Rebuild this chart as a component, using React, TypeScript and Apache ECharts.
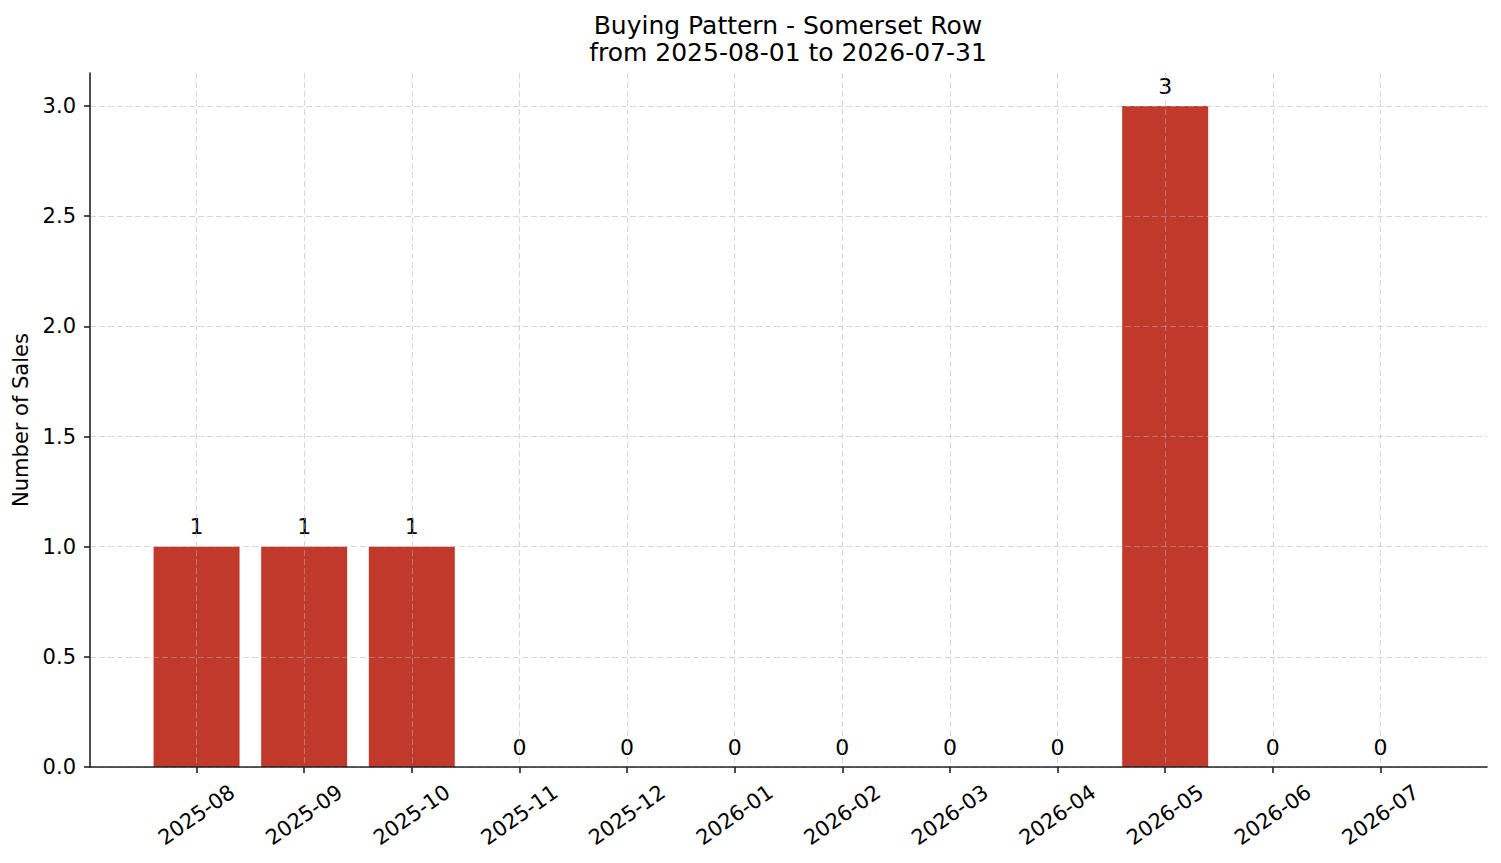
import React, { useEffect, useRef } from 'react';
import * as echarts from 'echarts';

// 月份与销量
const months = [
  '2025-08', '2025-09', '2025-10', '2025-11', '2025-12', '2026-01',
  '2026-02', '2026-03', '2026-04', '2026-05', '2026-06', '2026-07'
];
const sales = [1, 1, 1, 0, 0, 0, 0, 0, 0, 3, 0, 0];
const yTicks = [0, 0.5, 1, 1.5, 2, 2.5, 3];
const titleText = 'Buying Pattern - Somerset Row\nfrom 2025-08-01 to 2026-07-31';

const FONT = 'DejaVu Sans';
const gridColor = 'rgba(176, 176, 176, 0.5)';
const axisColor = '#222222';

const App: React.FC = () => {
  const chartRef = useRef<HTMLDivElement>(null);

  useEffect(() => {
    if (!chartRef.current) return;
    document.body.style.margin = '0';

    const chart = echarts.init(chartRef.current, null, { renderer: 'svg' });
    const xIdx = months.map((_, i) => i);

    const option: echarts.EChartsOption = {
      animation: false,
      backgroundColor: '#ffffff',
      textStyle: { fontFamily: FONT },
      graphic: [
        {
          type: 'text',
          x: 788,
          y: 12,
          style: {
            text: titleText,
            align: 'center',
            fontSize: 25,
            lineHeight: 27,
            fontFamily: FONT,
            fill: '#000'
          }
        }
      ],
      grid: { left: 90, right: 14, top: 73, bottom: 96 },
      xAxis: {
        type: 'value',
        min: -0.99,
        max: 11.99,
        z: 3,
        axisLine: { show: true, onZero: false, lineStyle: { color: axisColor, width: 1.6 } },
        axisTick: { show: true, length: 6, customValues: xIdx, lineStyle: { color: axisColor, width: 1.6 } },
        axisLabel: {
          customValues: xIdx,
          formatter: (v: number) => months[Math.round(v)] ?? '',
          rotate: 35,
          align: 'center',
          verticalAlign: 'middle',
          margin: 48,
          fontSize: 21,
          color: '#000',
          fontFamily: FONT
        },
        splitLine: { show: true, lineStyle: { color: gridColor, type: [6, 3], width: 1 } }
      },
      yAxis: {
        type: 'value',
        min: 0,
        max: 3.15,
        z: 3,
        name: 'Number of Sales',
        nameLocation: 'middle',
        nameGap: 56,
        nameTextStyle: { fontSize: 21, color: '#000', fontFamily: FONT },
        axisLine: { show: true, onZero: false, lineStyle: { color: axisColor, width: 1.6 } },
        axisTick: { show: true, length: 6, customValues: yTicks, lineStyle: { color: axisColor, width: 1.6 } },
        axisLabel: {
          customValues: yTicks,
          formatter: (v: number) => v.toFixed(1),
          margin: 14,
          fontSize: 21,
          color: '#000',
          fontFamily: FONT
        },
        splitLine: { show: true, lineStyle: { color: gridColor, type: [6, 3], width: 1 } }
      },
      series: [
        {
          type: 'bar',
          data: sales.map((v, i) => [i, v]),
          barWidth: 86,
          itemStyle: { color: '#c0392b' },
          label: {
            show: true,
            position: 'top',
            distance: 9,
            fontSize: 22,
            color: '#000',
            fontFamily: FONT,
            formatter: (p: any) => String(p.value[1])
          }
        }
      ]
    };

    chart.setOption(option);

    return () => {
      chart.dispose();
    };
  }, []);

  return <div ref={chartRef} style={{ width: '1501px', height: '863px' }} />;
};

export default App;
